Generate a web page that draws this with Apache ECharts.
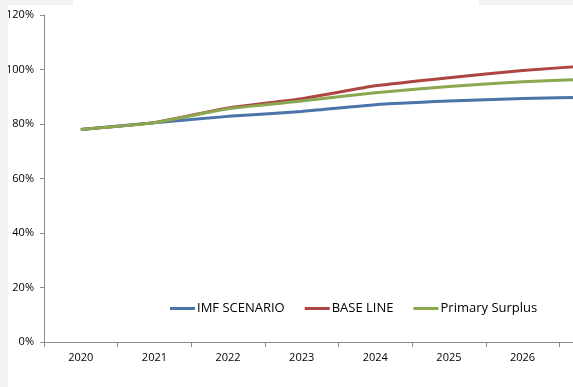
<!DOCTYPE html>
<html>
<head>
<meta charset="utf-8">
<script src="https://cdn.jsdelivr.net/npm/echarts@6/dist/echarts.min.js"></script>
<style>
  html, body { margin: 0; padding: 0; overflow: hidden; background: #ffffff; }
  #chart { width: 700px; height: 387px; }
</style>
</head>
<body>
<div id="chart"></div>
<script>
// Debt ratio projections (% of GDP)
const years = ['2020', '2021', '2022', '2023', '2024', '2025', '2026', '2027'];
const imfScenario = [78.0, 80.5, 82.8, 84.6, 87.1, 88.4, 89.4, 89.8];
const baseLine = [78.0, 80.5, 85.9, 89.3, 94.0, 97.0, 99.6, 101.6];
const primarySurplus = [78.0, 80.5, 85.6, 88.4, 91.5, 93.8, 95.5, 96.5];
const seriesNames = ['IMF SCENARIO', 'BASE LINE', 'Primary Surplus'];
const seriesColors = ['#4a74aa', '#ad4542', '#8aa84f'];

const chart = echarts.init(document.getElementById('chart'), null, { renderer: 'canvas' });
const font = '"Open Sans", "Noto Sans", sans-serif';
const axisGray = '#8c8c8c';

function lineSeries(name, data, color) {
  return {
    name: name,
    type: 'line',
    data: data,
    symbol: 'none',
    smooth: 0.15,
    lineStyle: { color: color, width: 3 },
    itemStyle: { color: color }
  };
}

chart.setOption({
  backgroundColor: '#ffffff',
  animation: false,
  textStyle: { fontFamily: font },
  grid: { left: 44, top: 15, width: 589, height: 327 },
  graphic: [
    { type: 'rect', shape: { x: 0, y: 0, width: 8, height: 387 }, style: { fill: '#f2f2f2' }, z: 100 },
    { type: 'rect', shape: { x: 0, y: 0, width: 73, height: 5 }, style: { fill: '#f2f2f2' }, z: 100 },
    { type: 'rect', shape: { x: 479, y: 0, width: 221, height: 5 }, style: { fill: '#f2f2f2' }, z: 100 }
  ],
  legend: {
    left: 165,
    top: 297,
    itemWidth: 25,
    itemHeight: 3,
    itemGap: 20,
    icon: 'rect',
    data: seriesNames,
    textStyle: { fontFamily: font, fontSize: 13, color: '#000000', padding: [0, 0, 0, -3] }
  },
  xAxis: {
    type: 'category',
    data: years,
    boundaryGap: true,
    axisLine: { lineStyle: { color: axisGray, width: 1 } },
    axisTick: { show: true, length: 5, lineStyle: { color: axisGray } },
    axisLabel: { color: '#000000', fontSize: 11, margin: 10, fontFamily: font },
    splitLine: { show: false }
  },
  yAxis: {
    type: 'value',
    min: 0,
    max: 120,
    interval: 20,
    axisLine: { show: true, lineStyle: { color: axisGray, width: 1 } },
    axisTick: { show: true, length: 4, lineStyle: { color: axisGray } },
    axisLabel: { formatter: '{value}%', color: '#000000', fontSize: 11, margin: 10, fontFamily: font },
    splitLine: { show: false }
  },
  series: [
    lineSeries(seriesNames[0], imfScenario, seriesColors[0]),
    lineSeries(seriesNames[1], baseLine, seriesColors[1]),
    lineSeries(seriesNames[2], primarySurplus, seriesColors[2])
  ]
});
</script>
</body>
</html>
